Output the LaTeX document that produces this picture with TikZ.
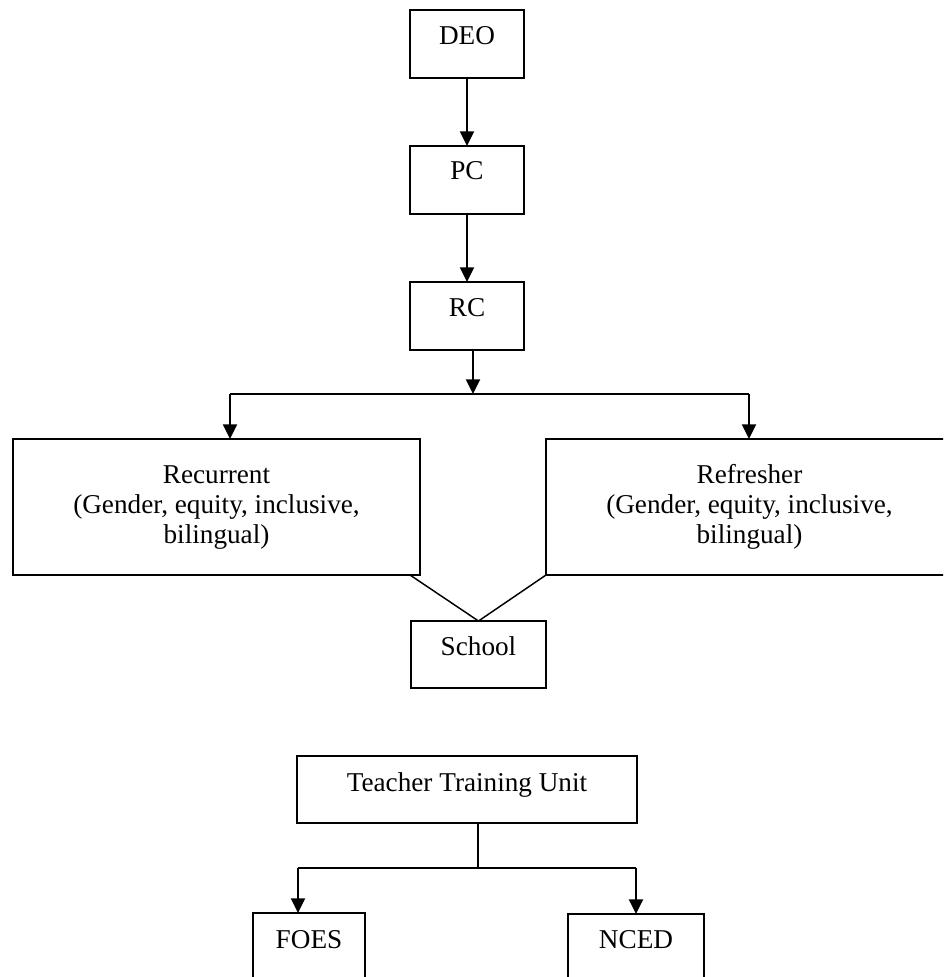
\documentclass[tikz,border=0pt]{standalone}
\usepackage{fontspec}
\setmainfont{Liberation Serif}
\usetikzlibrary{arrows.meta,calc}

\begin{document}
\begin{tikzpicture}[x=0.75pt,y=-0.75pt,
  bx/.style n args={2}{draw, line width=1.1pt, rectangle, inner sep=0pt, outer sep=0pt,
    minimum width=#1*0.75pt, minimum height=#2*0.75pt},
  lbl/.style={anchor=base, inner sep=0pt, align=center,
    font=\fontsize{20.4}{22.5}\selectfont},
  conn/.style={line width=1.5pt},
  arr/.style={conn, -{Triangle[width=10.5pt,length=11pt]}},
  link/.style={line width=1.1pt}]
  \useasboundingbox (0,0) rectangle (943,977);
  \clip (0,0) rectangle (943,977);

  % upper chain
  \node[bx={114}{68}] (deo) at (467,44) {};
  \node[bx={114}{68}] (pc)  at (467,180) {};
  \node[bx={114}{68}] (rc)  at (467,316) {};
  \node[lbl] at ($(deo.north)+(0,35)$) {DEO};
  \node[lbl] at ($(pc.north)+(0,34)$) {PC};
  \node[lbl] at ($(rc.north)+(0,34)$) {RC};

  % training branches (base anchor sits below the last of the three lines)
  \node[bx={407}{136}] (rec) at (216.5,507) {};
  \node[bx={407}{136}] (ref) at (749.5,507) {};
  \node[lbl] at ($(rec.north)+(0,104)$) {Recurrent\\(Gender, equity, inclusive,\\bilingual)};
  \node[lbl] at ($(ref.north)+(0,104)$) {Refresher\\(Gender, equity, inclusive,\\bilingual)};

  \node[bx={135}{67}] (sch) at (478.5,654.5) {};
  \node[lbl] at ($(sch.north)+(0,34)$) {School};

  \coordinate (split) at (473,394);
  \coordinate (lft) at (230,394);
  \coordinate (rgt) at (749,394);

  \draw[arr] (deo.south) -- (pc.north);
  \draw[arr] (pc.south) -- (rc.north);
  \draw[arr] (split |- rc.south) -- (split);
  \draw[conn] (lft) -- (rgt);
  \draw[arr] (lft) -- (lft |- rec.north);
  \draw[arr] (rgt) -- (rgt |- ref.north);
  \draw[link] ($(rec.south east)+(-10,0)$) -- (sch.north);
  \draw[link] (ref.south west) -- (sch.north);

  % teacher training unit
  \node[bx={340}{67}] (ttu) at (467,789.5) {};
  \node[lbl] at ($(ttu.north)+(0,35)$) {Teacher Training Unit};
  \node[bx={112}{67}] (foes) at (309,946.5) {};
  \node[bx={136}{67}] (nced) at (636,947.5) {};
  \node[lbl] at ($(foes.north)+(0,35)$) {FOES};
  \node[lbl] at ($(nced.north)+(0,34)$) {NCED};

  \coordinate (tsplit) at (478,868);
  \coordinate (tl) at (298,868);
  \coordinate (tr) at (636,868);
  \draw[conn] (tsplit |- ttu.south) -- (tsplit);
  \draw[conn] (tl) -- (tr);
  \draw[arr] (tl) -- (tl |- foes.north);
  \draw[arr] (tr) -- (tr |- nced.north);
\end{tikzpicture}
\end{document}
